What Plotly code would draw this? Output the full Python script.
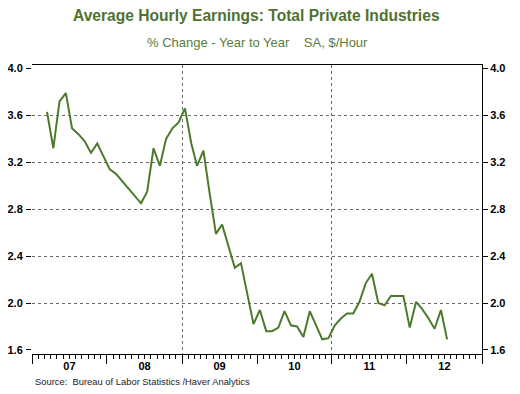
import plotly.graph_objects as go
import pandas as pd

# Monthly data, Mar 2007 - Jul 2012 (% change year to year)
months = pd.date_range("2007-03-01", "2012-07-01", freq="MS")
# plotted at mid-month
dates = [d + pd.Timedelta(days=14) for d in months]
values = [
    3.63, 3.32, 3.72, 3.79, 3.49, 3.44, 3.38, 3.28, 3.36, 3.25,   # 2007 Mar-Dec
    3.14, 3.10, 3.04, 2.98, 2.91, 2.85, 2.95, 3.32, 3.17, 3.40, 3.49, 3.54,  # 2008
    3.66, 3.36, 3.17, 3.30, 2.94, 2.59, 2.67, 2.48, 2.30, 2.34, 2.07, 1.82,  # 2009
    1.94, 1.76, 1.76, 1.79, 1.93, 1.81, 1.80, 1.71, 1.93, 1.81, 1.69, 1.70,  # 2010
    1.81, 1.87, 1.91, 1.91, 2.01, 2.17, 2.25, 2.00, 1.98, 2.06, 2.06, 2.06,  # 2011
    1.79, 2.01, 1.95, 1.87, 1.78, 1.94, 1.69,                                # 2012
]

y_ticks = [1.6, 2.0, 2.4, 2.8, 3.2, 3.6, 4.0]
y_grid = [2.0, 2.4, 2.8, 3.2, 3.6]
x_grid = ["2007-01-01", "2009-01-01", "2011-01-01"]
x_range = ["2007-01-01", "2013-01-01"]
y_range = [1.565, 4.03]

title_text = "Average Hourly Earnings: Total Private Industries"
subtitle_text = "% Change - Year to Year&nbsp;&nbsp;&nbsp;&nbsp;SA, $/Hour"
source_text = "Source:&nbsp;&nbsp;Bureau of Labor Statistics /Haver Analytics"

line_color = "#4b7a2d"
title_color = "#4f7233"
tick_font = dict(family="Liberation Sans, Arial, sans-serif", size=11, color="black", weight="bold")
grid_color = "#666666"
grid_dash = "3px,3px"

# page body has an 8px offset; figure is sized to fill the rest of the 520x394 window
OFF = 8
W, H = 520 - OFF, 394 - OFF
L, R, T, B = 32 - OFF, 38, 65 - OFF, 40
PW, PH = W - L - R, H - T - B


def px_x(px):
    return (px - OFF - L) / PW


def px_y(py):
    return (H - B - (py - OFF)) / PH


fig = go.Figure()
fig.add_trace(go.Scatter(x=dates, y=values, mode="lines",
                         line=dict(color=line_color, width=2),
                         xaxis="x", yaxis="y", showlegend=False))
# invisible helper traces so overlay axes render
fig.add_trace(go.Scatter(x=dates, y=values, mode="lines", opacity=0, hoverinfo="skip",
                         xaxis="x2", yaxis="y2", showlegend=False))
fig.add_trace(go.Scatter(x=dates, y=values, mode="lines", opacity=0, hoverinfo="skip",
                         xaxis="x", yaxis="y3", showlegend=False))

fig.update_layout(
    width=W, height=H,
    margin=dict(l=L, r=R, t=T, b=B, autoexpand=False),
    paper_bgcolor="white", plot_bgcolor="white",
    xaxis=dict(
        type="date", range=x_range, showgrid=False, automargin=False,
        showline=True, linecolor="black", linewidth=1, mirror=True,
        ticks="outside", ticklen=9, tickcolor="black", tickwidth=1,
        dtick="M12", tick0="2007-01-01", tickformat="%y", ticklabelmode="period",
        tickfont=tick_font, ticklabelstandoff=-7,
        minor=dict(dtick="M1", ticks="outside", ticklen=4, tickcolor="black", showgrid=False),
        zeroline=False,
    ),
    xaxis2=dict(
        type="date", range=x_range, overlaying="x", anchor="y", automargin=False,
        tickmode="array", tickvals=x_grid, showticklabels=False, ticks="",
        showgrid=True, gridcolor=grid_color, griddash=grid_dash, gridwidth=1,
        showline=False, zeroline=False,
    ),
    yaxis=dict(
        range=y_range, tickmode="array", tickvals=y_ticks, automargin=False,
        ticktext=[f"{v:.1f}" for v in y_ticks],
        showgrid=False, showline=False, zeroline=False,
        ticks="outside", ticklen=5, tickcolor="black",
        tickfont=tick_font, side="left", ticklabelstandoff=1,
    ),
    yaxis2=dict(
        range=y_range, overlaying="y", side="right", anchor="x", automargin=False,
        tickmode="array", tickvals=y_ticks, ticktext=[f"{v:.1f}" for v in y_ticks],
        showgrid=False, showline=True, linecolor="black", linewidth=1,
        ticks="outside", ticklen=5, tickcolor="black",
        tickfont=tick_font, zeroline=False,
    ),
    yaxis3=dict(
        range=y_range, overlaying="y", side="left", anchor="x", automargin=False,
        tickmode="array", tickvals=y_grid, showticklabels=False, ticks="",
        showgrid=True, gridcolor=grid_color, griddash=grid_dash, gridwidth=1,
        showline=False, zeroline=False,
    ),
    annotations=[
        dict(text=title_text, x=px_x(256), y=px_y(15), xref="paper", yref="paper",
             xanchor="center", yanchor="middle", showarrow=False,
             font=dict(family="Liberation Sans, Arial, sans-serif", size=15.6,
                       color=title_color, weight="bold")),
        dict(text=subtitle_text, x=px_x(257), y=px_y(43), xref="paper", yref="paper",
             xanchor="center", yanchor="middle", showarrow=False,
             font=dict(family="Liberation Sans, Arial, sans-serif", size=13, color="#5a7d3c")),
        dict(text=source_text, x=px_x(33), y=px_y(381), xref="paper", yref="paper",
             xanchor="left", yanchor="middle", showarrow=False,
             font=dict(family="Liberation Sans, Arial, sans-serif", size=9.4, color="#222222")),
    ],
)

fig.write_html("out.html")
